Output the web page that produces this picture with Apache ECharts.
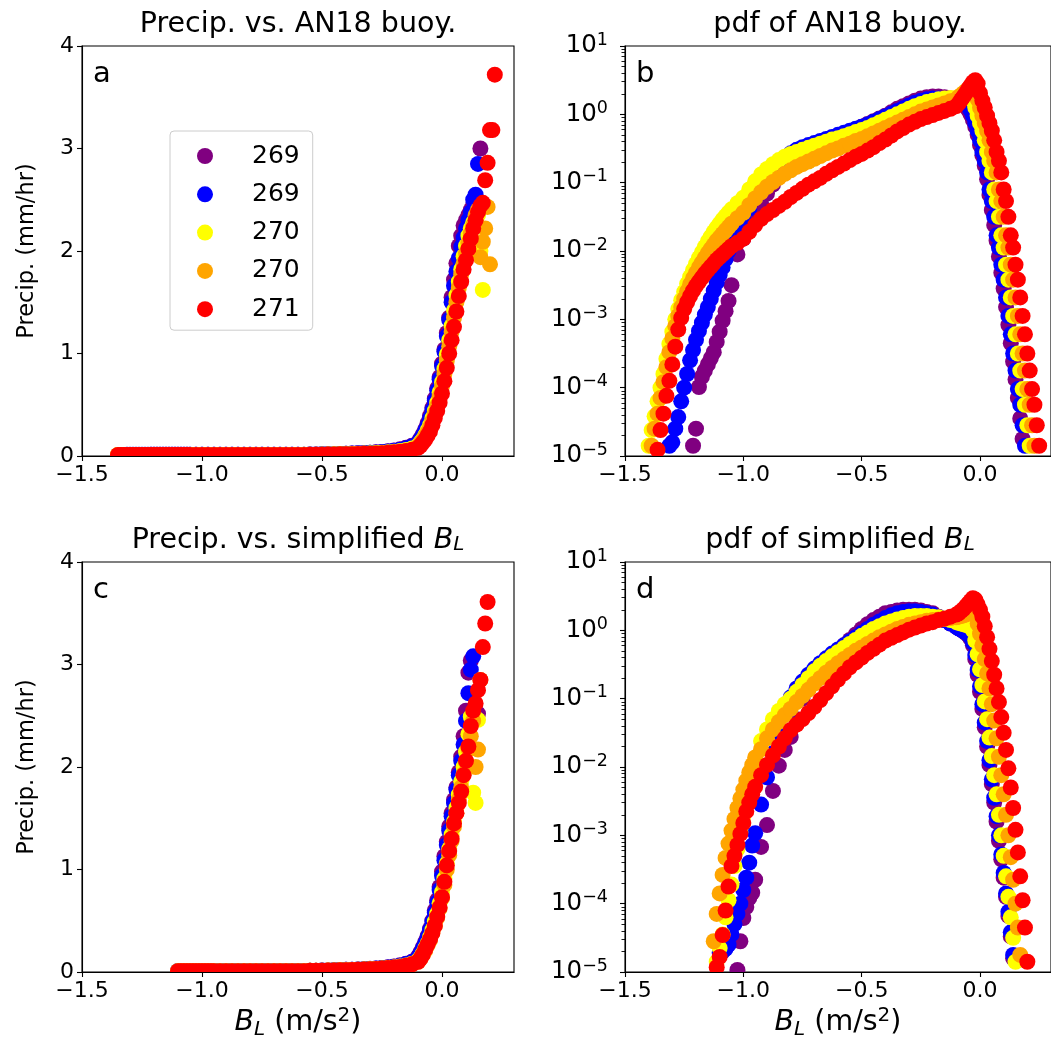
<!DOCTYPE html>
<html><head><meta charset="utf-8">
<script src="https://cdn.jsdelivr.net/npm/echarts@6.0.0/dist/echarts.min.js"></script>
<style>html,body{margin:0;padding:0;background:#fff;}#chart{width:1051px;height:1052px;}</style>
</head><body><div id="chart"></div>
<script>
const _ = null;
// bin centres (m/s^2) for the AN18 buoyancy panels (a, b)
const xBuoy = [
 -1.4,-1.3875,-1.375,-1.3625,-1.35,-1.3375,-1.325,-1.3125,-1.3,-1.2875,
 -1.275,-1.2625,-1.25,-1.2375,-1.225,-1.2125,-1.2,-1.1875,-1.175,-1.1625,
 -1.15,-1.1375,-1.125,-1.1125,-1.1,-1.0875,-1.075,-1.0625,-1.05,
 -1.025,-1,-0.975,-0.95,-0.925,-0.9,-0.875,-0.85,-0.825,-0.8,
 -0.775,-0.75,-0.725,-0.7,-0.675,-0.65,-0.625,-0.6,-0.575,-0.55,
 -0.525,-0.5,-0.475,-0.45,-0.425,-0.4,-0.375,-0.35,-0.325,-0.3,
 -0.275,-0.25,-0.225,-0.2,-0.175,-0.15,-0.125,
 -0.1,-0.09,-0.08,-0.07,-0.06,-0.05,-0.04,-0.03,-0.02,-0.01,
 0,0.01,0.02,0.03,0.04,0.05,0.06,0.07,0.08,0.09,
 0.1,0.11,0.12,0.13,0.14,0.15,0.16,0.17,0.18,0.19,
 0.2,0.21,0.22,0.23,0.24,0.25];
// bin centres for the simplified B_L panels (c, d)
const xSimp = [
 -1.125,-1.1125,-1.1,-1.0875,-1.075,-1.0625,-1.05,-1.0375,-1.025,-1.0125,
 -1,-0.9875,-0.975,-0.9625,-0.95,
 -0.925,-0.9,-0.875,-0.85,-0.825,-0.8,-0.775,-0.75,-0.725,-0.7,
 -0.675,-0.65,-0.625,-0.6,-0.575,-0.55,-0.525,-0.5,-0.475,-0.45,
 -0.425,-0.4,-0.375,-0.35,-0.325,-0.3,-0.275,-0.25,-0.225,-0.2,
 -0.175,-0.15,-0.125,
 -0.1,-0.09,-0.08,-0.07,-0.06,-0.05,-0.04,-0.03,-0.02,-0.01,
 0,0.01,0.02,0.03,0.04,0.05,0.06,0.07,0.08,0.09,
 0.1,0.11,0.12,0.13,0.14,0.15,0.16,0.17,0.18,0.19,
 0.2,0.21];

const seriesKeys = ['s269a','s269b','s270a','s270b','s271'];
const legendLabels = ['269','269','270','270','271'];
const seriesColors = ['#800080','#0000ff','#ffff00','#ffa500','#ff0000'];
const xTickValues = [-1.5,-1,-0.5,0];
const precipTickValues = [0,1,2,3,4];
const pdfExponentTicks = [-5,-4,-3,-2,-1,0,1];

// ---------- panel a: precip (mm/hr) vs AN18 buoyancy ----------
const precipBuoy269a = [
 _,_,_,_,_,_,_,_,_,_,_,_,_,_,_,.012,.012,.012,.012,.012,.012,.012,.012,.012,.012,.012,.012,.012,.012,
 .012,.012,.012,.012,.012,.012,.012,.012,.012,.012,.012,.012,.012,.012,.012,.012,.012,.012,
 .013,.014,.015,.016,.017,.018,.02,.022,.024,.026,.029,.032,.036,.04,.046,.054,.065,.08,.1,
 .13,.17,.21,.26,.32,.39,.47,.56,.66,.77,.9,1.04,1.2,1.35,1.55,1.72,1.88,2.05,2.15,2.25,
 2.3,2.35,2.4,2.45,2.5,_,3.0,_,_,_,_,_,_,_,_,_];
const precipBuoy269b = [
 _,_,_,_,_,_,_,.012,.012,.012,.012,.012,.012,.012,.012,.012,.012,.012,.012,.012,.012,.012,.012,.012,.012,.012,.012,.012,.012,
 .012,.012,.012,.012,.012,.012,.012,.012,.012,.012,.012,.012,.012,.012,.012,.012,.012,.012,
 .013,.014,.015,.016,.017,.018,.02,.022,.024,.026,.028,.031,.035,.039,.044,.051,.06,.075,.095,
 .12,.16,.2,.25,.3,.37,.45,.54,.64,.75,.88,1.02,1.17,1.33,1.5,1.66,1.8,1.93,2.04,2.13,
 2.22,2.3,2.38,2.5,2.55,2.85,_,_,_,_,_,_,_,_,_,_];
const precipBuoy270a = [
 _,_,_,_,.01,.01,.01,.01,.01,.01,.01,.01,.01,.01,.01,.01,.01,.01,.01,.01,.01,.01,.01,.01,.01,.01,.01,.01,.01,
 .01,.01,.01,.01,.01,.01,.01,.01,.01,.01,.01,.01,.01,.01,.01,.01,.01,.01,
 .011,.012,.013,.014,.015,.016,.017,.018,.02,.022,.024,.026,.029,.032,.036,.041,.048,.058,.072,
 .1,.13,.16,.2,.25,.3,.37,.44,.52,.62,.72,.85,.99,1.13,1.27,1.42,1.57,1.7,1.82,1.95,
 2.05,2.15,2.22,2.28,2.3,2.35,2.0,1.62,_,_,_,_,_,_,_,_];
const precipBuoy270b = [
 _,_,_,_,.01,.01,.01,.01,.01,.01,.01,.01,.01,.01,.01,.01,.01,.01,.01,.01,.01,.01,.01,.01,.01,.01,.01,.01,.01,
 .01,.01,.01,.01,.01,.01,.01,.01,.01,.01,.01,.01,.01,.01,.01,.01,.01,.01,
 .01,.011,.012,.013,.014,.015,.016,.017,.018,.02,.021,.023,.025,.028,.031,.035,.04,.048,.058,
 .09,.12,.15,.19,.23,.28,.34,.41,.49,.58,.68,.8,.93,1.07,1.21,1.35,1.5,1.64,1.77,1.88,
 1.98,2.08,2.17,2.25,2.35,2.4,1.94,2.09,2.22,2.43,1.87,_,_,_,_,_];
const precipBuoy271 = [
 _,_,_,_,.01,.01,.01,.01,.01,.01,.01,.01,.01,.01,.01,.01,.01,.01,.01,.01,.01,.01,.01,.01,.01,.01,.01,.01,.01,
 .01,.01,.01,.01,.01,.01,.01,.01,.01,.01,.01,.01,.01,.01,.01,.01,.01,.01,
 .01,.012,.012,.013,.014,.015,.016,.017,.018,.02,.021,.023,.025,.028,.031,.036,.042,.05,.06,
 .08,.1,.13,.16,.2,.24,.3,.37,.44,.52,.61,.73,.86,1.0,1.13,1.26,1.41,1.56,1.7,1.82,
 1.91,2.02,2.12,2.22,2.3,2.38,2.44,2.47,2.69,2.86,3.18,3.18,3.72,_,_,_];

// ---------- panel b: log10 of pdf of AN18 buoyancy ----------
const log10PdfBuoy269a = [
 _,_,_,_,_,_,_,_,_,_,_,_,_,_,_,-4.85,-4.6,-3.99,-3.84,-3.75,-3.66,-3.57,-3.48,-3.33,-3.18,-3.02,-2.88,-2.73,-2.5,
 -2.05,-1.82,-1.62,-1.45,-1.3,-1.16,-1.03,-0.92,-0.82,-0.73,-0.66,-0.6,-0.55,-0.5,-0.46,-0.42,-0.38,-0.34,
 -0.3,-0.26,-0.22,-0.18,-0.14,-0.1,-0.06,-0.02,0.03,0.08,0.12,0.16,0.2,0.23,0.25,0.26,0.26,0.25,0.23,
 0.23,0.21,0.19,0.16,0.12,0.07,0,-0.08,-0.18,-0.3,-0.45,-0.6,-0.75,-0.95,-1.18,-1.4,-1.62,-1.85,-2.08,-2.32,
 -2.55,-2.82,-3.08,-3.35,-3.62,-3.88,-4.15,-4.45,-4.75,_,_,_,_,_,_,_];
const log10PdfBuoy269b = [
 _,_,_,_,_,_,_,-4.85,-4.8,-4.6,-4.43,-4.2,-4.0,-3.8,-3.6,-3.45,-3.3,-3.17,-3.05,-2.93,-2.82,-2.7,-2.58,-2.46,-2.35,-2.24,-2.12,-2.0,-1.9,
 -1.72,-1.55,-1.38,-1.22,-1.06,-0.93,-0.82,-0.72,-0.64,-0.57,-0.52,-0.48,-0.45,-0.42,-0.39,-0.36,-0.33,-0.3,
 -0.27,-0.24,-0.21,-0.18,-0.15,-0.11,-0.07,-0.03,0.01,0.05,0.09,0.13,0.17,0.2,0.22,0.23,0.23,0.22,0.2,
 0.2,0.19,0.18,0.17,0.15,0.12,0.06,-0.02,-0.13,-0.24,-0.38,-0.55,-0.68,-0.85,-1.1,-1.27,-1.5,-1.77,-1.95,-2.2,
 -2.42,-2.68,-2.95,-3.22,-3.5,-3.75,-4.02,-4.25,-4.55,-4.85,_,_,_,_,_,_];
const log10PdfBuoy270a = [
 -4.85,-4.62,-4.42,-4.2,-4.0,-3.8,-3.58,-3.36,-3.18,-3.0,-2.85,-2.72,-2.6,-2.48,-2.38,-2.28,-2.19,-2.1,-2.02,-1.94,-1.86,-1.79,-1.72,-1.66,-1.6,-1.54,-1.49,-1.44,-1.39,
 -1.3,-1.22,-1.1,-0.98,-0.88,-0.8,-0.73,-0.67,-0.62,-0.58,-0.55,-0.52,-0.49,-0.46,-0.43,-0.4,-0.37,-0.35,
 -0.32,-0.29,-0.26,-0.23,-0.2,-0.16,-0.12,-0.08,-0.04,0,0.04,0.08,0.12,0.15,0.18,0.2,0.22,0.23,0.24,
 0.24,0.25,0.26,0.27,0.28,0.28,0.27,0.2,0.1,-0.02,-0.13,-0.24,-0.38,-0.55,-0.68,-0.85,-1.1,-1.27,-1.5,-1.77,
 -1.95,-2.2,-2.42,-2.68,-2.95,-3.22,-3.5,-3.75,-4.02,-4.25,-4.55,-4.85,_,_,_,_];
const log10PdfBuoy270b = [
 _,-4.85,-4.6,-4.38,-4.15,-3.92,-3.7,-3.48,-3.28,-3.1,-2.95,-2.82,-2.7,-2.59,-2.49,-2.4,-2.32,-2.24,-2.17,-2.1,-2.03,-1.97,-1.91,-1.85,-1.8,-1.75,-1.7,-1.65,-1.6,
 -1.52,-1.44,-1.33,-1.23,-1.14,-1.06,-0.99,-0.93,-0.87,-0.82,-0.77,-0.73,-0.69,-0.65,-0.61,-0.57,-0.53,-0.5,
 -0.46,-0.43,-0.39,-0.36,-0.32,-0.28,-0.24,-0.2,-0.16,-0.12,-0.08,-0.04,0,0.04,0.07,0.1,0.13,0.16,0.19,
 0.22,0.25,0.28,0.31,0.34,0.36,0.37,0.37,0.33,0.22,0.1,-0.02,-0.13,-0.24,-0.38,-0.55,-0.68,-0.85,-1.1,-1.27,
 -1.5,-1.77,-1.95,-2.2,-2.42,-2.68,-2.95,-3.22,-3.5,-3.75,-4.02,-4.25,-4.55,-4.85,_,_];
const log10PdfBuoy271 = [
 _,_,_,-4.91,-4.62,-4.38,-4.12,-3.9,-3.66,-3.4,-3.15,-2.98,-2.85,-2.75,-2.66,-2.58,-2.51,-2.45,-2.39,-2.33,-2.28,-2.23,-2.18,-2.13,-2.09,-2.05,-2.01,-1.97,-1.93,
 -1.88,-1.82,-1.72,-1.62,-1.53,-1.46,-1.4,-1.34,-1.28,-1.21,-1.15,-1.09,-1.03,-0.98,-0.93,-0.87,-0.82,-0.77,
 -0.72,-0.67,-0.62,-0.58,-0.53,-0.48,-0.42,-0.37,-0.31,-0.25,-0.2,-0.15,-0.11,-0.07,-0.04,-0.01,0.02,0.05,0.08,
 0.12,0.16,0.21,0.26,0.31,0.37,0.42,0.47,0.5,0.45,0.31,0.2,0.1,-0.02,-0.13,-0.24,-0.38,-0.55,-0.68,-0.85,
 -1.1,-1.27,-1.5,-1.77,-1.95,-2.2,-2.42,-2.68,-2.95,-3.22,-3.5,-3.75,-4.02,-4.25,-4.55,-4.85];

// ---------- panel c: precip (mm/hr) vs simplified B_L ----------
const precipSimp269a = [
 _,_,_,_,_,_,_,_,.01,.01,.01,.01,.01,.01,.01,
 .01,.01,.01,.01,.01,.01,.01,.01,.01,.01,.01,.01,.01,.01,.01,
 .012,.013,.014,.015,.017,.019,.021,.023,.025,.028,.031,.035,.04,.046,.054,.065,.08,.1,
 .15,.19,.24,.29,.35,.42,.5,.6,.7,.83,.98,1.13,1.27,1.42,1.55,1.68,1.8,1.95,2.1,2.3,
 2.55,2.92,3.04,_,_,2.52,_,_,_,_,_,_];
const precipSimp269b = [
 _,_,.01,.01,.01,.01,.01,.01,.01,.01,.01,.01,.01,.01,.01,
 .01,.01,.01,.01,.01,.01,.01,.01,.01,.01,.01,.01,.01,.01,.01,
 .012,.013,.014,.015,.017,.019,.021,.023,.025,.027,.03,.034,.038,.044,.051,.062,.077,.097,
 .14,.18,.23,.28,.34,.41,.49,.58,.68,.8,.94,1.09,1.24,1.38,1.52,1.65,1.78,1.92,2.06,2.22,
 2.45,2.72,2.95,3.08,_,_,_,_,_,_,_,_];
const precipSimp270a = [
 _,_,.008,.008,.008,.008,.008,.008,.008,.008,.008,.008,.008,.008,.008,
 .008,.008,.008,.008,.008,.008,.008,.008,.008,.008,.008,.008,.008,.008,.008,
 .011,.012,.013,.014,.015,.016,.018,.02,.022,.024,.027,.03,.034,.039,.045,.053,.064,.08,
 .11,.14,.18,.23,.28,.34,.41,.49,.57,.67,.78,.91,1.06,1.2,1.34,1.47,1.6,1.73,1.86,2.0,
 2.15,2.32,2.49,1.75,1.65,2.46,_,_,_,_,_,_];
const precipSimp270b = [
 _,_,.008,.008,.008,.008,.008,.008,.008,.008,.008,.008,.008,.008,.008,
 .008,.008,.008,.008,.008,.008,.008,.008,.008,.008,.008,.008,.008,.008,.008,
 .011,.012,.013,.014,.015,.016,.018,.02,.022,.024,.027,.03,.034,.038,.044,.051,.062,.077,
 .1,.13,.17,.21,.26,.31,.38,.45,.53,.62,.72,.85,1.0,1.14,1.28,1.42,1.55,1.68,1.8,1.93,
 2.05,2.18,2.3,2.45,2.0,2.17,2.85,_,_,_,_,_];
const precipSimp271 = [
 _,_,.008,.008,.008,.008,.008,.008,.008,.008,.008,.008,.008,.008,.008,
 .008,.008,.008,.008,.008,.008,.008,.008,.008,.008,.008,.008,.008,.008,.008,
 .011,.012,.013,.014,.015,.016,.018,.02,.022,.024,.027,.03,.034,.038,.043,.05,.06,.075,
 .1,.13,.17,.22,.27,.32,.38,.45,.54,.63,.73,.88,1.04,1.18,1.3,1.45,1.55,1.65,1.76,1.92,
 2.06,2.2,2.4,2.55,2.62,2.75,2.85,3.17,3.4,3.61,_,_];

// ---------- panel d: log10 of pdf of simplified B_L ----------
const log10PdfSimp269a = [
 _,_,_,_,_,_,_,_,-4.97,-4.55,-4.21,-4.05,-3.92,-3.84,-3.65,
 -3.17,-2.85,-2.35,-1.98,-1.75,-1.56,-1.3,-1.0,-0.85,-0.75,-0.62,-0.5,-0.4,-0.31,-0.22,
 -0.14,-0.06,0.02,0.09,0.15,0.2,0.25,0.27,0.29,0.3,0.3,0.3,0.29,0.27,0.25,0.2,0.15,0.1,
 0.05,0.03,0.01,-0.01,-0.04,-0.07,-0.12,-0.22,-0.42,-0.65,-0.9,-1.15,-1.42,-1.7,-1.97,-2.25,-2.52,-2.8,-3.08,-3.35,
 -3.62,-3.9,-4.18,-4.48,-4.8,_,_,_,_,_,_,_];
const log10PdfSimp269b = [
 _,_,-4.72,-4.7,-4.66,-4.6,-4.45,-4.3,-4.15,-4.0,-3.8,-3.62,-3.4,-3.15,-2.97,
 -2.55,-2.15,-1.8,-1.5,-1.22,-0.98,-0.85,-0.75,-0.65,-0.56,-0.48,-0.41,-0.34,-0.28,-0.22,
 -0.16,-0.1,-0.04,0.02,0.08,0.13,0.18,0.22,0.25,0.27,0.28,0.28,0.27,0.25,0.23,0.19,0.15,0.1,
 0.05,0.03,0.01,-0.01,-0.03,-0.06,-0.1,-0.18,-0.36,-0.58,-0.82,-1.08,-1.35,-1.62,-1.9,-2.18,-2.45,-2.72,-3.0,-3.28,
 -3.55,-3.85,-4.12,-4.42,-4.75,_,_,_,_,_,_,_];
const log10PdfSimp270a = [
 _,-4.85,-4.65,-4.45,-4.2,-3.95,-3.72,-3.45,-3.2,-2.95,-2.72,-2.5,-2.3,-2.1,-1.93,
 -1.62,-1.45,-1.3,-1.18,-1.08,-1.0,-0.9,-0.8,-0.7,-0.6,-0.52,-0.45,-0.38,-0.32,-0.26,
 -0.2,-0.14,-0.08,-0.03,0.02,0.06,0.1,0.13,0.16,0.18,0.2,0.21,0.21,0.21,0.2,0.19,0.17,0.15,
 0.12,0.11,0.1,0.09,0.08,0.07,0.05,0,-0.15,-0.35,-0.57,-0.8,-1.04,-1.3,-1.57,-1.84,-2.12,-2.4,-2.7,-3.0,
 -3.3,-3.6,-3.9,-4.2,-4.5,-4.85,_,_,_,_,_,_];
const log10PdfSimp270b = [
 -4.55,-4.15,-3.85,-3.58,-3.33,-3.12,-2.93,-2.76,-2.6,-2.46,-2.33,-2.2,-2.08,-1.97,-1.86,
 -1.74,-1.58,-1.45,-1.34,-1.24,-1.15,-1.05,-0.96,-0.87,-0.78,-0.7,-0.62,-0.55,-0.48,-0.42,
 -0.36,-0.3,-0.25,-0.2,-0.15,-0.1,-0.06,-0.02,0.02,0.05,0.08,0.1,0.12,0.14,0.15,0.16,0.17,0.18,
 0.19,0.2,0.21,0.22,0.23,0.25,0.27,0.28,0.22,0.1,-0.05,-0.22,-0.42,-0.63,-0.85,-1.08,-1.32,-1.58,-1.85,-2.12,
 -2.4,-2.7,-3.0,-3.32,-3.65,-4.0,-4.35,-4.75,_,_,_,_];
const log10PdfSimp271 = [
 _,-4.93,-4.78,-4.46,-4.1,-3.75,-3.45,-3.3,-3.14,-2.98,-2.82,-2.65,-2.52,-2.4,-2.29,
 -2.12,-1.97,-1.83,-1.7,-1.58,-1.46,-1.38,-1.3,-1.21,-1.12,-1.02,-0.92,-0.82,-0.72,-0.63,
 -0.54,-0.47,-0.4,-0.33,-0.27,-0.21,-0.15,-0.11,-0.07,-0.03,0.01,0.04,0.07,0.1,0.12,0.15,0.17,0.2,
 0.23,0.25,0.28,0.31,0.35,0.39,0.43,0.47,0.45,0.38,0.3,0.2,0.06,-0.1,-0.27,-0.45,-0.65,-0.85,-1.05,-1.27,
 -1.5,-1.75,-2.02,-2.3,-2.6,-2.92,-3.25,-3.6,-3.95,-4.35,-4.85,_];

const FONT = 'DejaVu Sans';
const R = 8; // marker radius (px)
const minorTicks = [];
for (let n = -5; n < 1; n++) for (let k = 2; k < 10; k++) minorTicks.push(n + Math.log10(k));

const panels = [
  {x: xBuoy, ys: [precipBuoy269a, precipBuoy269b, precipBuoy270a, precipBuoy270b, precipBuoy271]},
  {x: xBuoy, ys: [log10PdfBuoy269a, log10PdfBuoy269b, log10PdfBuoy270a, log10PdfBuoy270b, log10PdfBuoy271]},
  {x: xSimp, ys: [precipSimp269a, precipSimp269b, precipSimp270a, precipSimp270b, precipSimp271]},
  {x: xSimp, ys: [log10PdfSimp269a, log10PdfSimp269b, log10PdfSimp270a, log10PdfSimp270b, log10PdfSimp271]}
];
const problems = [];
panels.forEach((p, pi) => p.ys.forEach((y, k) => { if (y.length !== p.x.length) problems.push('P' + pi + 'S' + k + ':' + y.length + '/' + p.x.length); }));

const grids = [
  {left: 82, top: 46, width: 432, height: 410},
  {left: 625, top: 46, width: 431, height: 410},
  {left: 82, top: 562, width: 432, height: 410},
  {left: 625, top: 562, width: 431, height: 410}
];
const black = '#000';
const tickFont = {fontFamily: FONT, fontSize: 22, color: black};
const minus = s => String(s).replace('-', '\u2212');

const richSubSup = {
  i: {fontFamily: FONT, fontSize: 28.5, fontStyle: 'italic', lineHeight: 34},
  sub: {fontFamily: FONT, fontSize: 20, fontStyle: 'italic', lineHeight: 16, verticalAlign: 'bottom'},
  sup: {fontFamily: FONT, fontSize: 20, lineHeight: 16, verticalAlign: 'top'}
};

const xAxes = grids.map((g, i) => ({
  gridIndex: i, type: 'value', min: -1.5, max: 0.3, z: 10,
  axisLine: {show: true, onZero: false, lineStyle: {color: black, width: 1.1}},
  axisTick: {show: true, length: 5, customValues: xTickValues, lineStyle: {color: black, width: 1.1}},
  axisLabel: Object.assign({customValues: xTickValues, margin: 8, formatter: v => minus(v.toFixed(1))}, tickFont),
  splitLine: {show: false},
  name: i >= 2 ? '{i|B}{sub|L} (m/s{sup|2})' : '',
  nameLocation: 'middle', nameGap: 34,
  nameTextStyle: {fontFamily: FONT, fontSize: 28.5, color: black, lineHeight: 34, rich: richSubSup}
}));

const yAxes = grids.map((g, i) => {
  const isPdf = (i === 1 || i === 3);
  const base = {
    gridIndex: i, type: 'value', position: 'left', z: 10,
    axisLine: {show: true, onZero: false, lineStyle: {color: black, width: 1.1}},
    axisTick: {show: true, length: 5, lineStyle: {color: black, width: 1.1}},
    splitLine: {show: false}
  };
  if (isPdf) {
    return Object.assign(base, {
      min: -5, max: 1, interval: 1,
      axisLabel: {margin: 17, formatter: v => '{b|10}{s|' + minus(v) + '}',
        rich: {b: {fontFamily: FONT, fontSize: 24.5, color: black, lineHeight: 30},
               s: {fontFamily: FONT, fontSize: 17.5, color: black, lineHeight: 16, verticalAlign: 'top'}}}
    });
  }
  return Object.assign(base, {
    min: 0, max: 4, interval: 1,
    axisLabel: Object.assign({margin: 8}, tickFont),
    name: 'Precip. (mm/hr)', nameLocation: 'middle', nameGap: 43,
    nameTextStyle: {fontFamily: FONT, fontSize: 22.5, color: black}
  });
});
[1, 3].forEach(gi => yAxes.push({
  gridIndex: gi, type: 'value', position: 'left', min: -5, max: 1, z: 10,
  axisLine: {show: false, onZero: false}, axisLabel: {show: false}, splitLine: {show: false},
  axisTick: {show: true, length: 3.5, customValues: minorTicks, lineStyle: {color: black, width: 0.9}}
}));

function renderDot(params, api) {
  const p = api.coord([api.value(0), api.value(1)]);
  return {type: 'circle', shape: {cx: p[0], cy: p[1], r: R}, style: {fill: api.visual('color')}};
}

const series = [];
panels.forEach((p, pi) => {
  p.ys.forEach((ys, k) => {
    const data = [];
    for (let i = 0; i < p.x.length; i++) if (ys[i] !== null && ys[i] !== undefined) data.push([p.x[i], ys[i]]);
    series.push({type: 'custom', name: seriesKeys[k], xAxisIndex: pi, yAxisIndex: pi, data: data,
      clip: true, silent: true, itemStyle: {color: seriesColors[k]}, renderItem: renderDot, animation: false});
  });
});

const titleStyle = {fontFamily: FONT, fontSize: 28.5, fontWeight: 'normal', color: black, lineHeight: 28,
  rich: {i: {fontFamily: FONT, fontSize: 28.5, fontStyle: 'italic', lineHeight: 28},
         sub: {fontFamily: FONT, fontSize: 20, fontStyle: 'italic', lineHeight: 14, verticalAlign: 'bottom'}}};
const letterStyle = {fontFamily: FONT, fontSize: 29, fontWeight: 'normal', color: black};
const titles = [
  {text: 'Precip. vs. AN18 buoy.', left: 298, top: 11, textAlign: 'center', padding: 0, textStyle: titleStyle},
  {text: 'pdf of AN18 buoy.', left: 840, top: 11, textAlign: 'center', padding: 0, textStyle: titleStyle},
  {text: 'Precip. vs. simplified {i|B}{sub|L}', left: 298, top: 527, textAlign: 'center', padding: 0, textStyle: titleStyle},
  {text: 'pdf of simplified {i|B}{sub|L}', left: 840, top: 527, textAlign: 'center', padding: 0, textStyle: titleStyle},
  {text: 'a', left: 93, top: 60, padding: 0, textStyle: letterStyle},
  {text: 'b', left: 636, top: 60, padding: 0, textStyle: letterStyle},
  {text: 'c', left: 93, top: 576, padding: 0, textStyle: letterStyle},
  {text: 'd', left: 636, top: 576, padding: 0, textStyle: letterStyle}
];
if (problems.length) titles.push({text: problems.join(' '), left: 0, top: 0, textStyle: {color: 'red', fontSize: 12}});

const chart = echarts.init(document.getElementById('chart'), null, {renderer: 'canvas', width: 1051, height: 1052});
chart.setOption({
  animation: false,
  backgroundColor: '#fff',
  title: titles,
  legend: {
    data: seriesKeys, left: 170, top: 131, orient: 'vertical', icon: 'circle',
    itemWidth: 16, itemHeight: 16, itemGap: 12.3, padding: [12, 13, 8, 27],
    borderColor: '#cccccc', borderWidth: 1, borderRadius: 4, backgroundColor: 'rgba(255,255,255,0.8)',
    selectedMode: false,
    formatter: n => legendLabels[seriesKeys.indexOf(n)],
    textStyle: {fontFamily: FONT, fontSize: 25, color: black, lineHeight: 26, padding: [0, 0, 0, 34]}
  },
  grid: grids.map(g => Object.assign({show: true, borderColor: black, borderWidth: 1.1, backgroundColor: 'transparent', containLabel: false}, g)),
  xAxis: xAxes,
  yAxis: yAxes,
  series: series
});
</script></body></html>
